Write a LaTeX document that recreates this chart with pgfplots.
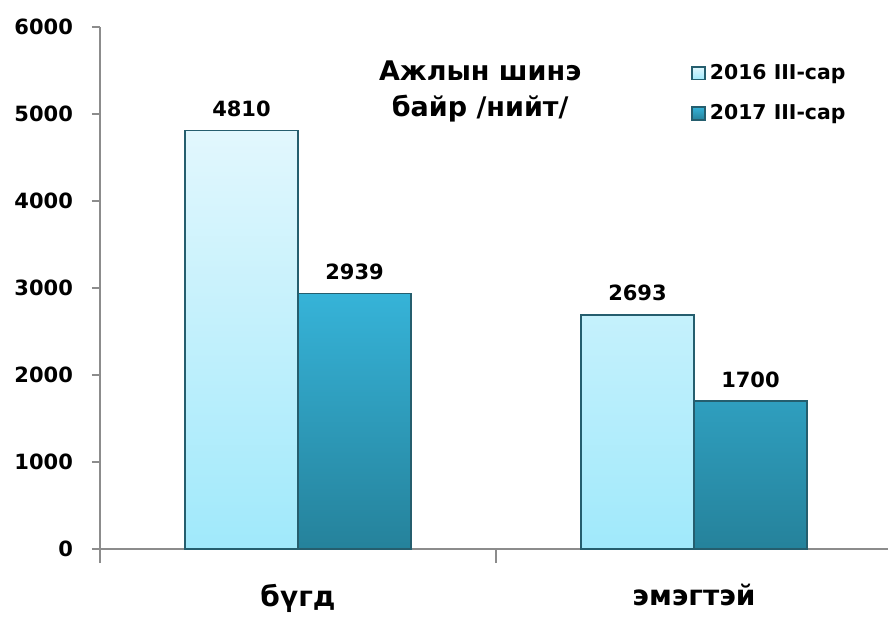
\documentclass[border=0pt]{standalone}
\usepackage{fontspec}
\setmainfont{DejaVu Sans}
\usepackage{pgfplots}
\pgfplotsset{compat=1.18}
\usetikzlibrary{calc}
\definecolor{atop}{HTML}{E2F7FD}
\definecolor{abot}{HTML}{A0E9FB}
\definecolor{btop}{HTML}{36B3D8}
\definecolor{bbot}{HTML}{25829B}
\definecolor{bord}{HTML}{255E6E}
\definecolor{axgray}{HTML}{8C8C8C}
\begin{document}
\begin{tikzpicture}
\begin{axis}[
  scale only axis, width=394pt, height=261pt,
  xmin=-0.5, xmax=1.49, ymin=0, ymax=6000,
  ybar=0pt, bar width=56.5pt,
  axis x line*=bottom, axis y line*=left,
  axis line style={draw=axgray, line width=1.3pt, -},
  every tick/.style={draw=axgray, line width=1pt},
  tick align=outside, major tick length=4pt, minor tick length=7pt,
  ytick={0,1000,...,6000},
  xtick={0,1}, xticklabels={бүгд,эмэгтэй},
  major x tick style={draw=none},
  minor xtick={-0.5,0.5},
  minor x tick style={draw=axgray, line width=1pt},
  xticklabel style={font=\bfseries\fontsize{14}{16}\selectfont, yshift=-10pt},
  yticklabel style={font=\bfseries\fontsize{10.5}{12}\selectfont, xshift=-6pt},
  /pgf/number format/assume math mode=true,
  /pgf/number format/1000 sep={},
  nodes near coords,
  every node near coord/.append style={font=\bfseries\fontsize{10.5}{12}\selectfont, yshift=3pt, black},
  legend style={at={(axis cs:0.977,5670)}, anchor=north west, draw=none, fill=none,
    font=\bfseries\fontsize{10.2}{12}\selectfont, row sep=7pt},
  legend cell align=left,
  legend image code/.code={\draw[#1, draw=bord, line width=0.8pt] (0pt,-3.2pt) rectangle (6.5pt,3.2pt);},
]
\addplot[draw=bord, line width=0.8pt, top color=atop, bottom color=abot] coordinates {(0,4810) (1,2693)};
\addlegendentry{2016 III-сар}
\addplot[draw=bord, line width=0.8pt, top color=btop, bottom color=bbot] coordinates {(0,2939) (1,1700)};
\addlegendentry{2017 III-сар}
\node[font=\bfseries\fontsize{13.5}{18}\selectfont, align=center] at (axis cs:0.46,5260) {Ажлын шинэ\\байр /нийт/};
\coordinate (O) at (rel axis cs:0,0);
\end{axis}
\pgfresetboundingbox
\path[use as bounding box] ($(O)+(-50pt,-34.5pt)$) rectangle ++(444pt,309pt);
\end{tikzpicture}
\end{document}
